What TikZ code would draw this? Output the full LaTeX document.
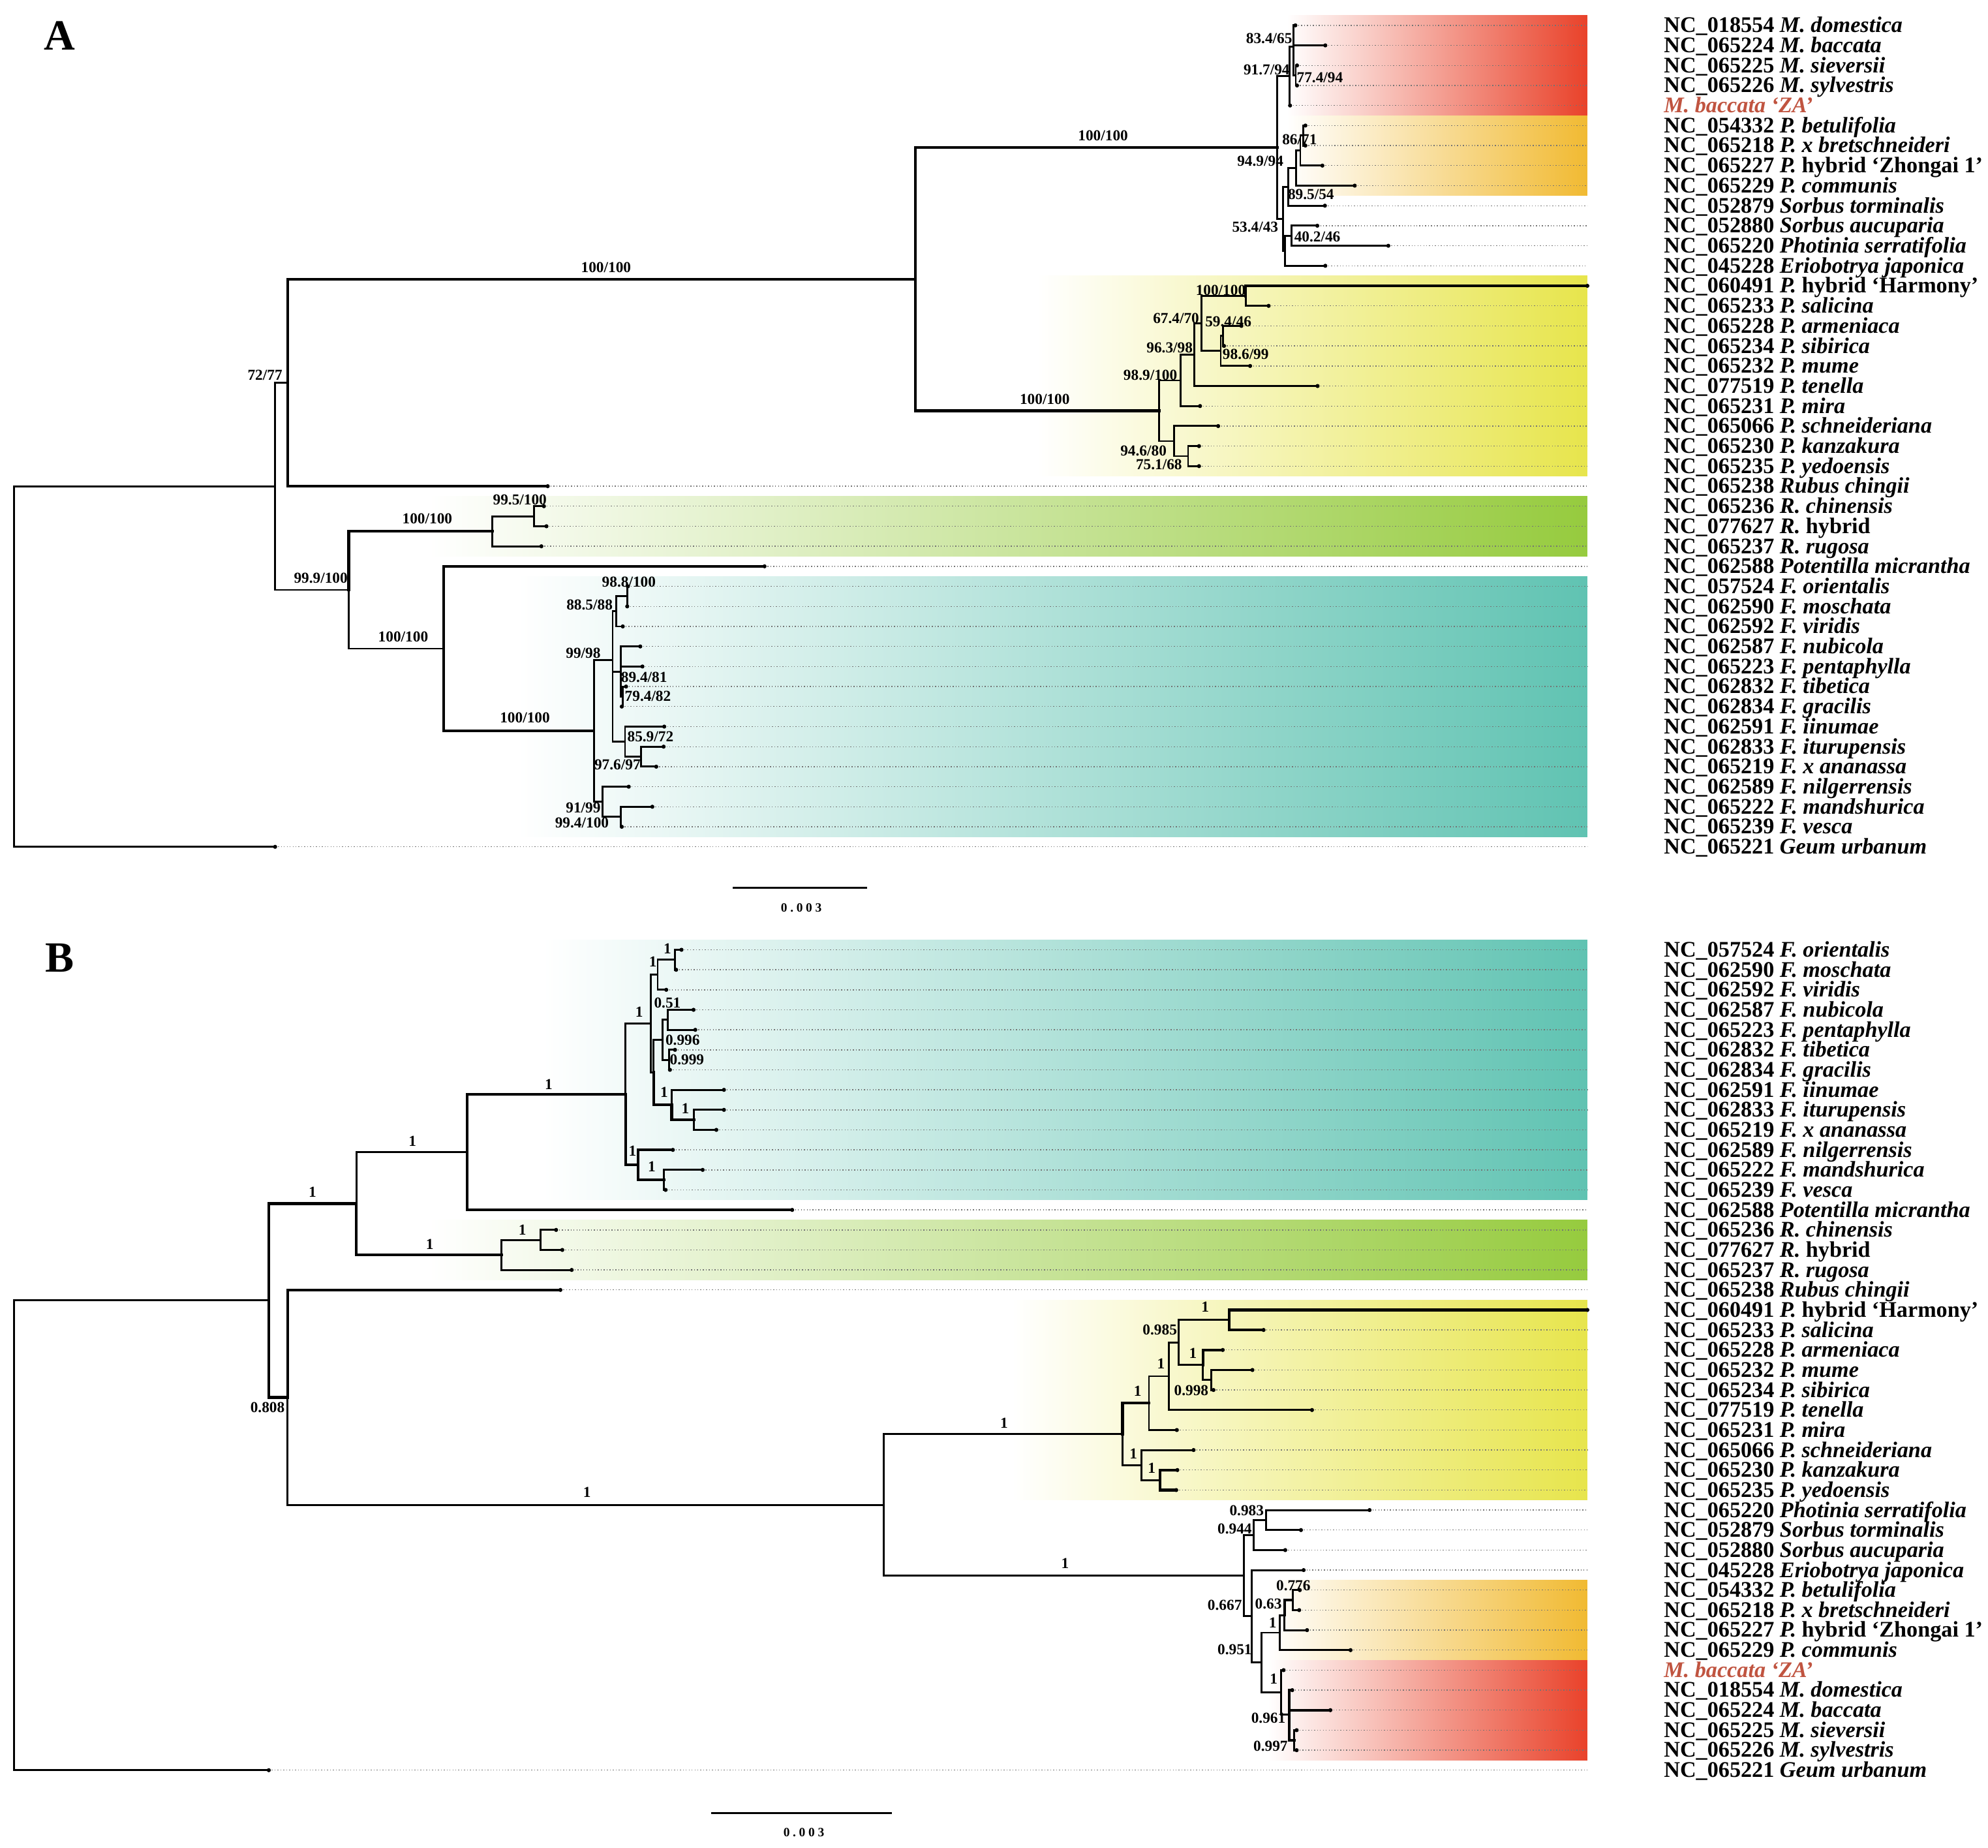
\documentclass[tikz,border=0pt]{standalone}
\usepackage{fontspec}
\setmainfont{Liberation Serif}
\definecolor{cred}{RGB}{233,66,42}
\definecolor{corange}{RGB}{241,186,50}
\definecolor{cyellow}{RGB}{231,229,76}
\definecolor{cgreen}{RGB}{150,203,62}
\definecolor{cteal}{RGB}{96,195,178}
\definecolor{cza}{RGB}{192,84,64}
\newcommand\br[3][branch]{\draw[#1] (#2) |- (#3);}
\newcommand\tipA[2]{\coordinate (a#1) at (#2,{20+15.8*(#1-1)});\draw[leader] (a#1) -- (a#1 -| Rend);}
\newcommand\tipB[2]{\coordinate (b#1) at (#2,{749+15.78*(#1-1)});\draw[leader] (b#1) -- (b#1 -| Rend);}
\newcommand\taxA[2]{\node[taxon] (tA#1) at (1312,{20+15.8*(#1-1)+5.6}) {#2};}
\newcommand\taxB[2]{\node[taxon] (tB#1) at (1312,{749+15.78*(#1-1)+5.6}) {#2};}
\newcommand\nc[1]{NC\_#1\ }
\newcommand\bs[3]{\node[supp] (#1) at (#2) {#3};}
\begin{document}
\begin{tikzpicture}[x=0.5pt,y=-0.5pt,
  branch/.style={line width=0.75pt, line cap=rect},
  tbranch/.style={line width=1.1pt, line cap=rect},
  leader/.style={line width=0.35pt, black!55, dash pattern=on 0.35pt off 0.8pt},
  taxon/.style={anchor=base west, inner sep=0pt, font=\fontsize{8.8}{9}\selectfont\bfseries},
  supp/.style={inner sep=0pt, font=\fontsize{6}{6}\selectfont\bfseries},
  panel/.style={inner sep=0pt, font=\fontsize{17}{17}\selectfont\bfseries}]
\useasboundingbox (0,0) rectangle (1568,1457);
\coordinate (Rend) at (1252,0);

% ---------- coloured clade boxes ----------
\shade[left color=white, right color=cred]    (1015,12.1)  rectangle (1252,91.1);
\shade[left color=white, right color=corange] (1015,91.1)  rectangle (1252,154.3);
\shade[left color=white, right color=cyellow] (818,217.5)  rectangle (1252,375.5);
\shade[left color=white, right color=cgreen]  (338,391.3)  rectangle (1252,438.7);
\shade[left color=white, right color=cteal]   (408,454.5)  rectangle (1252,659.9);
\shade[left color=white, right color=cteal]   (428,741.1)  rectangle (1252,946.3);
\shade[left color=white, right color=cgreen]  (338,962)    rectangle (1252,1009.4);
\shade[left color=white, right color=cyellow] (798,1025.1) rectangle (1252,1183);
\shade[left color=white, right color=corange] (1000,1246.1) rectangle (1252,1309.2);
\shade[left color=white, right color=cred]    (1000,1309.2) rectangle (1252,1388.1);

% ================= PANEL A =================
\node[panel] (LA) at (47,28) {A};
% tips
\tipA{1}{1021.7}\tipA{2}{1045.3}\tipA{3}{1023}\tipA{4}{1023}\tipA{5}{1017.5}
\tipA{6}{1029.6}\tipA{7}{1029.6}\tipA{8}{1043}\tipA{9}{1068.5}\tipA{10}{1045}
\tipA{11}{1039}\tipA{12}{1095}\tipA{13}{1045.3}\tipA{14}{1252}\tipA{15}{1000.6}
\tipA{16}{979.1}\tipA{17}{965.4}\tipA{18}{986}\tipA{19}{1039.2}\tipA{20}{946.5}
\tipA{21}{960.8}\tipA{22}{945.7}\tipA{23}{945.7}\tipA{24}{432}\tipA{25}{429}
\tipA{26}{431}\tipA{27}{427}\tipA{28}{603}\tipA{29}{495.2}\tipA{30}{494.7}
\tipA{31}{491.2}\tipA{32}{505}\tipA{33}{506.7}\tipA{34}{493.8}\tipA{35}{490.4}
\tipA{36}{523.9}\tipA{37}{523.4}\tipA{38}{517.6}\tipA{39}{495.9}\tipA{40}{514.5}
\tipA{41}{490.4}\tipA{42}{217}
% internal nodes
\coordinate (RA) at (11,525.6);
\coordinate (IA) at (217,383.5);
\coordinate (N2) at (227,301.75);
\coordinate (N3) at (275,465.2);
\coordinate (N4) at (722,220.1);
\coordinate (Q0) at (1007.5,116.35);
\coordinate (M0) at (1017.3,60.1);
\coordinate (M1) at (1020,37);
\coordinate (M2) at (1022,59.5);
\coordinate (Q1) at (1012,172.6);
\coordinate (Q2) at (1016.3,147.4);
\coordinate (PY) at (1022.3,132.6);
\coordinate (PZ) at (1025.6,118.75);
\coordinate (PZa) at (1027.8,106.9);
\coordinate (Q3) at (1013.5,197.75);
\coordinate (Q4) at (1018.6,185.9);
\coordinate (P0) at (914.4,323.9);
\coordinate (P1) at (931.1,300.0);
\coordinate (P2) at (925.9,347.85);
\coordinate (P3) at (942.2,279.7);
\coordinate (P4) at (947.4,255.0);
\coordinate (P5) at (982.5,233.3);
\coordinate (P6) at (962.8,276.75);
\coordinate (P7) at (964.5,264.9);
\coordinate (P8) at (937.1,359.7);
\coordinate (RO) at (388.2,418.95);
\coordinate (RO1) at (421,407.1);
\coordinate (PF) at (350,511.5);
\coordinate (FR) at (468.4,576.4);
\coordinate (F1) at (483.2,520.6);
\coordinate (F3) at (486.1,482.15);
\coordinate (F4) at (494.7,470.3);
\coordinate (F6) at (489.5,530);
\coordinate (F7) at (491,549.3);
\coordinate (F5) at (493,584.85);
\coordinate (F8) at (505.5,596.7);
\coordinate (F2) at (475.2,632.25);
\coordinate (F9) at (489.7,644.1);
% branches
\br{RA}{IA}\br{RA}{a42}
\br{IA}{N2}\br{IA}{N3}
\br[tbranch]{N2}{N4}\br[tbranch]{N2}{a24}
\br[tbranch]{N4}{Q0}\br[tbranch]{N4}{P0}
\br{Q0}{M0}\br{Q0}{Q1}
\br{M0}{M1}\br{M0}{a5}
\br{M1}{a1}\br{M1}{a2}\br{M1}{M2}
\br{M2}{a3}\br{M2}{a4}
\br{Q1}{Q2}\br{Q1}{Q3}
\br{Q2}{PY}\br{Q2}{a10}
\br{PY}{PZ}\br{PY}{a9}
\br{PZ}{PZa}\br{PZ}{a8}
\br{PZa}{a6}\br{PZa}{a7}
\br{Q3}{Q4}\br{Q3}{a13}
\br{Q4}{a11}\br{Q4}{a12}
\br{P0}{P1}\br{P0}{P2}
\br{P1}{P3}\br{P1}{a20}
\br{P3}{P4}\br{P3}{a19}
\br{P4}{P5}\br{P4}{P6}
\br[tbranch]{P5}{a14}\br{P5}{a15}
\br{P6}{P7}\br{P6}{a18}
\br{P7}{a16}\br{P7}{a17}
\br{P2}{a21}\br{P2}{P8}
\br{P8}{a22}\br{P8}{a23}
\br[tbranch]{N3}{RO}\br{N3}{PF}
\br{RO}{RO1}\br{RO}{a27}
\br{RO1}{a25}\br{RO1}{a26}
\br[tbranch]{PF}{a28}\br[tbranch]{PF}{FR}
\br{FR}{F1}\br{FR}{F2}
\br{F1}{F3}\br{F1}{F6}\br{F1}{F5}
\br{F3}{F4}\br{F3}{a31}
\br{F4}{a29}\br{F4}{a30}
\br{F6}{a32}\br{F6}{a33}\br{F6}{F7}
\br{F7}{a34}\br{F7}{a35}
\br{F5}{a36}\br{F5}{F8}
\br{F8}{a37}\br{F8}{a38}
\br{F2}{a39}\br{F2}{F9}
\br{F9}{a40}\br{F9}{a41}
\foreach \i in {1,...,42} {\fill (a\i) circle[radius=0.8pt];}
% support values A
\bs{sA1}{478,211}{100/100}
\bs{sA2}{209,296}{72/77}
\bs{sA3}{253,456}{99.9/100}
\bs{sA4}{337,409}{100/100}
\bs{sA5}{318,502}{100/100}
\bs{sA6}{414,566}{100/100}
\bs{sA7}{410,394}{99.5/100}
\bs{sA8}{496,459}{98.8/100}
\bs{sA9}{465,477}{88.5/88}
\bs{sA10}{460,515}{99/98}
\bs{sA11}{508,534}{89.4/81}
\bs{sA12}{511,549}{79.4/82}
\bs{sA13}{513,581}{85.9/72}
\bs{sA14}{487,603}{97.6/97}
\bs{sA15}{460,637}{91/99}
\bs{sA16}{459,649}{99.4/100}
\bs{sA17}{870,107}{100/100}
\bs{sA18}{824,315}{100/100}
\bs{sA19}{962.8,229}{100/100}
\bs{sA20}{927.6,251.2}{67.4/70}
\bs{sA21}{968.8,253.8}{59.4/46}
\bs{sA22}{922.5,274.4}{96.3/98}
\bs{sA23}{982.5,279.5}{98.6/99}
\bs{sA24}{907.3,295.8}{98.9/100}
\bs{sA25}{901.9,355.5}{94.6/80}
\bs{sA26}{914.1,366.5}{75.1/68}
\bs{sA27}{1001,30.5}{83.4/65}
\bs{sA28}{999,55}{91.7/94}
\bs{sA29}{1041,61}{77.4/94}
\bs{sA30}{1025,110}{86/71}
\bs{sA31}{994,127}{94.9/94}
\bs{sA32}{1034,153.5}{89.5/54}
\bs{sA33}{990,179}{53.4/43}
\bs{sA34}{1039,187}{40.2/46}
% taxa A
\taxA{1}{\nc{018554}\textit{M. domestica}}
\taxA{2}{\nc{065224}\textit{M. baccata}}
\taxA{3}{\nc{065225}\textit{M. sieversii}}
\taxA{4}{\nc{065226}\textit{M. sylvestris}}
\taxA{5}{\color{cza}\textit{M. baccata ‘ZA’}}
\taxA{6}{\nc{054332}\textit{P. betulifolia}}
\taxA{7}{\nc{065218}\textit{P. x bretschneideri}}
\taxA{8}{\nc{065227}\textit{P.} hybrid ‘Zhongai 1’}
\taxA{9}{\nc{065229}\textit{P. communis}}
\taxA{10}{\nc{052879}\textit{Sorbus torminalis}}
\taxA{11}{\nc{052880}\textit{Sorbus aucuparia}}
\taxA{12}{\nc{065220}\textit{Photinia serratifolia}}
\taxA{13}{\nc{045228}\textit{Eriobotrya japonica}}
\taxA{14}{\nc{060491}\textit{P.} hybrid ‘Harmony’}
\taxA{15}{\nc{065233}\textit{P. salicina}}
\taxA{16}{\nc{065228}\textit{P. armeniaca}}
\taxA{17}{\nc{065234}\textit{P. sibirica}}
\taxA{18}{\nc{065232}\textit{P. mume}}
\taxA{19}{\nc{077519}\textit{P. tenella}}
\taxA{20}{\nc{065231}\textit{P. mira}}
\taxA{21}{\nc{065066}\textit{P. schneideriana}}
\taxA{22}{\nc{065230}\textit{P. kanzakura}}
\taxA{23}{\nc{065235}\textit{P. yedoensis}}
\taxA{24}{\nc{065238}\textit{Rubus chingii}}
\taxA{25}{\nc{065236}\textit{R. chinensis}}
\taxA{26}{\nc{077627}\textit{R.} hybrid}
\taxA{27}{\nc{065237}\textit{R. rugosa}}
\taxA{28}{\nc{062588}\textit{Potentilla micrantha}}
\taxA{29}{\nc{057524}\textit{F. orientalis}}
\taxA{30}{\nc{062590}\textit{F. moschata}}
\taxA{31}{\nc{062592}\textit{F. viridis}}
\taxA{32}{\nc{062587}\textit{F. nubicola}}
\taxA{33}{\nc{065223}\textit{F. pentaphylla}}
\taxA{34}{\nc{062832}\textit{F. tibetica}}
\taxA{35}{\nc{062834}\textit{F. gracilis}}
\taxA{36}{\nc{062591}\textit{F. iinumae}}
\taxA{37}{\nc{062833}\textit{F. iturupensis}}
\taxA{38}{\nc{065219}\textit{F. x ananassa}}
\taxA{39}{\nc{062589}\textit{F. nilgerrensis}}
\taxA{40}{\nc{065222}\textit{F. mandshurica}}
\taxA{41}{\nc{065239}\textit{F. vesca}}
\taxA{42}{\nc{065221}\textit{Geum urbanum}}
% scale bar A
\coordinate (sbA1) at (578,700);
\coordinate (sbA2) at (684,700);
\draw[line width=0.8pt] (sbA1) -- (sbA2);
\node[inner sep=0pt, font=\fontsize{5}{5}\selectfont\bfseries] (sbAt) at (632,716) {0\hspace{1.2pt}.\hspace{1.2pt}0\hspace{1.2pt}0\hspace{1.2pt}3};

% ================= PANEL B =================
\node[panel] (LB) at (47,755.5) {B};
\tipB{1}{537.5}\tipB{2}{533.3}\tipB{3}{525.5}\tipB{4}{547}\tipB{5}{548.4}
\tipB{6}{532.4}\tipB{7}{528.4}\tipB{8}{571}\tipB{9}{571}\tipB{10}{565}
\tipB{11}{530.7}\tipB{12}{554.2}\tipB{13}{525}\tipB{14}{624.8}\tipB{15}{438.6}
\tipB{16}{443.5}\tipB{17}{450.9}\tipB{18}{442}\tipB{19}{1252}\tipB{20}{996.6}
\tipB{21}{964.4}\tipB{22}{987.8}\tipB{23}{957.1}\tipB{24}{1034.8}\tipB{25}{928.2}
\tipB{26}{941.4}\tipB{27}{928.6}\tipB{28}{927.7}\tipB{29}{1080.2}\tipB{30}{1026.1}
\tipB{31}{1013.7}\tipB{32}{1028.2}\tipB{33}{1025.2}\tipB{34}{1024.7}\tipB{35}{1030.9}
\tipB{36}{1065.2}\tipB{37}{1012.4}\tipB{38}{1019.2}\tipB{39}{1049.3}\tipB{40}{1022.7}
\tipB{41}{1022.7}\tipB{42}{212}
\coordinate (RB) at (11,1210.8);
\coordinate (B1) at (212,1025.55);
\coordinate (B2) at (281,949.1);
\coordinate (B3) at (226.8,1102.0);
\coordinate (B4) at (368.6,908.5);
\coordinate (BR) at (395.7,989.65);
\coordinate (BR1) at (426.3,977.8);
\coordinate (BF) at (493.4,862.9);
\coordinate (BF1) at (513.5,807.2);
\coordinate (BF3) at (518.7,768.75);
\coordinate (BF7) at (532.4,756.9);
\coordinate (BF4) at (515.6,845.65);
\coordinate (BF5) at (522.6,820.0);
\coordinate (BF8) at (526.7,804.2);
\coordinate (BF9) at (527.8,835.8);
\coordinate (BF6) at (529.8,871.3);
\coordinate (BF10) at (547.3,883.1);
\coordinate (BF2) at (503.2,918.65);
\coordinate (BF11) at (523.8,930.5);
\coordinate (B5) at (697.2,1186.75);
\coordinate (BA) at (885.4,1130.9);
\coordinate (BA1) at (906.2,1106.5);
\coordinate (BA3) at (922.1,1085.3);
\coordinate (BA4) at (929.5,1058.7);
\coordinate (BA5) at (969.6,1040.9);
\coordinate (BA6) at (948.8,1076.45);
\coordinate (BA7) at (955.2,1088.3);
\coordinate (BA2) at (900.1,1155.35);
\coordinate (BA8) at (914.8,1167.2);
\coordinate (BM) at (981.1,1242.6);
\coordinate (BM1) at (988.7,1210.55);
\coordinate (BM3) at (998.6,1198.7);
\coordinate (BM2) at (987.1,1274.6);
\coordinate (BM4) at (995.2,1311.0);
\coordinate (BP) at (1009.3,1287.5);
\coordinate (BP1) at (1013.2,1273.7);
\coordinate (BP2) at (1019.6,1261.85);
\coordinate (BMa) at (1010.3,1334.55);
\coordinate (BMa1) at (1016.7,1352);
\coordinate (BMa2) at (1020.9,1372.3);
\br{RB}{B1}\br{RB}{b42}
\br[tbranch]{B1}{B2}\br[tbranch]{B1}{B3}
\br{B2}{B4}\br[tbranch]{B2}{BR}
\br[tbranch]{B4}{BF}\br[tbranch]{B4}{b14}
\br{BR}{BR1}\br{BR}{b17}
\br{BR1}{b15}\br{BR1}{b16}
\br{BF}{BF1}\br[tbranch]{BF}{BF2}
\br{BF1}{BF3}\br{BF1}{BF4}
\br{BF3}{BF7}\br{BF3}{b3}
\br{BF7}{b1}\br{BF7}{b2}
\br{BF4}{BF5}\br[tbranch]{BF4}{BF6}
\br{BF5}{BF8}\br{BF5}{BF9}
\br{BF8}{b4}\br{BF8}{b5}
\br{BF9}{b6}\br{BF9}{b7}
\br{BF6}{b8}\br[tbranch]{BF6}{BF10}
\br{BF10}{b9}\br{BF10}{b10}
\br[tbranch]{BF2}{b11}\br[tbranch]{BF2}{BF11}
\br{BF11}{b12}\br{BF11}{b13}
\br[tbranch]{B3}{b18}\br{B3}{B5}
\br{B5}{BA}\br{B5}{BM}
\br[tbranch]{BA}{BA1}\br{BA}{BA2}
\br{BA1}{BA3}\br{BA1}{b25}
\br{BA3}{BA4}\br{BA3}{b24}
\br{BA4}{BA5}\br{BA4}{BA6}
\br[tbranch]{BA5}{b19}\br[tbranch]{BA5}{b20}
\br[tbranch]{BA6}{b21}\br{BA6}{BA7}
\br{BA7}{b22}\br{BA7}{b23}
\br{BA2}{b26}\br{BA2}{BA8}
\br[tbranch]{BA8}{b27}\br[tbranch]{BA8}{b28}
\br{BM}{BM1}\br{BM}{BM2}
\br{BM1}{BM3}\br{BM1}{b31}
\br{BM3}{b29}\br{BM3}{b30}
\br{BM2}{b32}\br{BM2}{BM4}
\br{BM4}{BP}\br{BM4}{BMa}
\br{BP}{BP1}\br{BP}{b36}
\br[tbranch]{BP1}{BP2}\br{BP1}{b35}
\br{BP2}{b33}\br{BP2}{b34}
\br{BMa}{b37}\br{BMa}{BMa1}
\br[tbranch]{BMa1}{b38}\br[tbranch]{BMa1}{b39}\br[tbranch]{BMa1}{BMa2}
\br{BMa2}{b40}\br{BMa2}{b41}
\foreach \i in {1,...,42} {\fill (b\i) circle[radius=0.8pt];}
% support values B
\bs{sB1}{246.5,940}{1}
\bs{sB2}{325.3,900}{1}
\bs{sB3}{339,981}{1}
\bs{sB4}{432.7,855}{1}
\bs{sB5}{412,970}{1}
\bs{sB6}{211,1110}{0.808}
\bs{sB7}{463,1177}{1}
\bs{sB8}{792,1122}{1}
\bs{sB9}{840,1233}{1}
\bs{sB10}{526.4,748.1}{1}
\bs{sB11}{514.9,758.5}{1}
\bs{sB12}{526.4,791}{0.51}
\bs{sB13}{504.1,797.9}{1}
\bs{sB14}{538.4,820.3}{0.996}
\bs{sB15}{541.8,835.7}{0.999}
\bs{sB16}{523.8,861.5}{1}
\bs{sB17}{540.6,874.2}{1}
\bs{sB18}{498.9,907.8}{1}
\bs{sB19}{514,919.8}{1}
\bs{sB20}{950.6,1030.8}{1}
\bs{sB21}{914.8,1048.9}{0.985}
\bs{sB22}{940.9,1067}{1}
\bs{sB23}{915.7,1075.6}{1}
\bs{sB24}{939.6,1096.3}{0.998}
\bs{sB25}{897.3,1096.8}{1}
\bs{sB26}{894,1146.3}{1}
\bs{sB27}{908.4,1157.9}{1}
\bs{sB28}{983.3,1191.3}{0.983}
\bs{sB29}{973.8,1205.8}{0.944}
\bs{sB30}{966,1265.9}{0.667}
\bs{sB31}{1020.1,1250.5}{0.776}
\bs{sB32}{1000.4,1265}{0.63}
\bs{sB33}{1003.8,1279.6}{1}
\bs{sB34}{973.8,1301.1}{0.951}
\bs{sB35}{1004.6,1324.2}{1}
\bs{sB36}{1000.4,1355.1}{0.961}
\bs{sB37}{1002.1,1377.1}{0.997}
% taxa B
\taxB{1}{\nc{057524}\textit{F. orientalis}}
\taxB{2}{\nc{062590}\textit{F. moschata}}
\taxB{3}{\nc{062592}\textit{F. viridis}}
\taxB{4}{\nc{062587}\textit{F. nubicola}}
\taxB{5}{\nc{065223}\textit{F. pentaphylla}}
\taxB{6}{\nc{062832}\textit{F. tibetica}}
\taxB{7}{\nc{062834}\textit{F. gracilis}}
\taxB{8}{\nc{062591}\textit{F. iinumae}}
\taxB{9}{\nc{062833}\textit{F. iturupensis}}
\taxB{10}{\nc{065219}\textit{F. x ananassa}}
\taxB{11}{\nc{062589}\textit{F. nilgerrensis}}
\taxB{12}{\nc{065222}\textit{F. mandshurica}}
\taxB{13}{\nc{065239}\textit{F. vesca}}
\taxB{14}{\nc{062588}\textit{Potentilla micrantha}}
\taxB{15}{\nc{065236}\textit{R. chinensis}}
\taxB{16}{\nc{077627}\textit{R.} hybrid}
\taxB{17}{\nc{065237}\textit{R. rugosa}}
\taxB{18}{\nc{065238}\textit{Rubus chingii}}
\taxB{19}{\nc{060491}\textit{P.} hybrid ‘Harmony’}
\taxB{20}{\nc{065233}\textit{P. salicina}}
\taxB{21}{\nc{065228}\textit{P. armeniaca}}
\taxB{22}{\nc{065232}\textit{P. mume}}
\taxB{23}{\nc{065234}\textit{P. sibirica}}
\taxB{24}{\nc{077519}\textit{P. tenella}}
\taxB{25}{\nc{065231}\textit{P. mira}}
\taxB{26}{\nc{065066}\textit{P. schneideriana}}
\taxB{27}{\nc{065230}\textit{P. kanzakura}}
\taxB{28}{\nc{065235}\textit{P. yedoensis}}
\taxB{29}{\nc{065220}\textit{Photinia serratifolia}}
\taxB{30}{\nc{052879}\textit{Sorbus torminalis}}
\taxB{31}{\nc{052880}\textit{Sorbus aucuparia}}
\taxB{32}{\nc{045228}\textit{Eriobotrya japonica}}
\taxB{33}{\nc{054332}\textit{P. betulifolia}}
\taxB{34}{\nc{065218}\textit{P. x bretschneideri}}
\taxB{35}{\nc{065227}\textit{P.} hybrid ‘Zhongai 1’}
\taxB{36}{\nc{065229}\textit{P. communis}}
\taxB{37}{\color{cza}\textit{M. baccata ‘ZA’}}
\taxB{38}{\nc{018554}\textit{M. domestica}}
\taxB{39}{\nc{065224}\textit{M. baccata}}
\taxB{40}{\nc{065225}\textit{M. sieversii}}
\taxB{41}{\nc{065226}\textit{M. sylvestris}}
\taxB{42}{\nc{065221}\textit{Geum urbanum}}
% scale bar B
\coordinate (sbB1) at (560.7,1430);
\coordinate (sbB2) at (703.6,1430);
\draw[line width=0.8pt] (sbB1) -- (sbB2);
\node[inner sep=0pt, font=\fontsize{5}{5}\selectfont\bfseries] (sbBt) at (634,1445) {0\hspace{1.2pt}.\hspace{1.2pt}0\hspace{1.2pt}0\hspace{1.2pt}3};
\end{tikzpicture}
\end{document}
